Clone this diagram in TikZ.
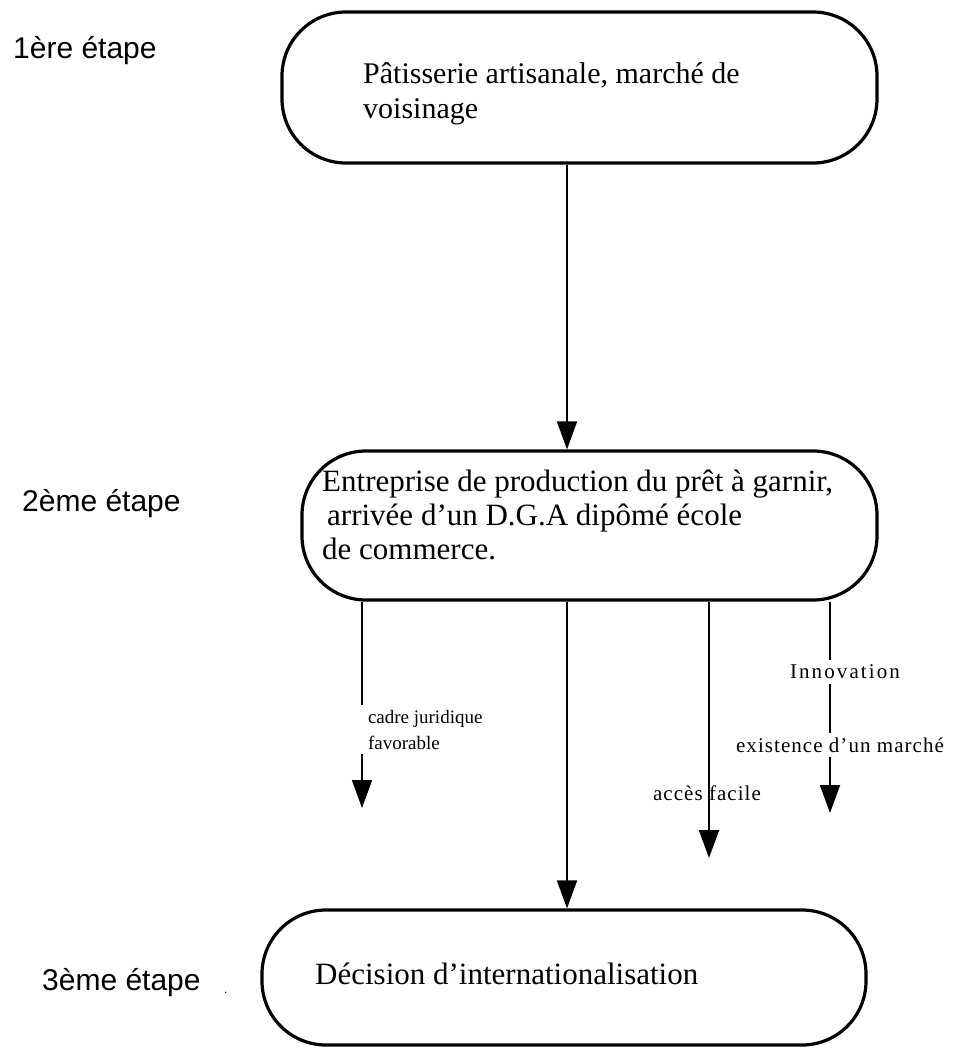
\documentclass[tikz,border=0pt]{standalone}
\usepackage{fontspec}
\setmainfont{Liberation Serif}
\newfontfamily\stagefont{Liberation Sans}
\usetikzlibrary{arrows.meta}

\begin{document}
\begin{tikzpicture}[x=1pt,y=-1pt,
  stagebox/.style={draw, line width=3.2pt, rounded corners=64pt, inner sep=0pt},
  link/.style={line width=1.8pt},
  arr/.style={link, -{Triangle[length=28pt,width=20pt]}},
  boxtext/.style={anchor=north west, align=left, inner sep=0pt},
  stagelabel/.style={anchor=base west, inner sep=0pt, font=\stagefont\fontsize{30}{36}\selectfont},
  cond/.style={inner sep=0pt, outer sep=5pt, align=left, font=\fontsize{21}{26}\selectfont}
]
\useasboundingbox (0,0) rectangle (958,1063);

% stage labels
\node[stagelabel] (s1) at (13,58) {1ère étape};
\node[stagelabel] (s2) at (22,511) {2ème étape};
\node[stagelabel] (s3) at (42,990) {3ème étape};
\node[anchor=base west, inner sep=0pt, font=\stagefont\fontsize{12}{12}\selectfont] (s3dot) at (224,993) {.};

% stage boxes
\node[stagebox, minimum width=595pt, minimum height=151pt] (box1) at (579.5,87.5) {};
\node[stagebox, minimum width=575pt, minimum height=149pt] (box2) at (589.5,525.5) {};
\node[stagebox, minimum width=604pt, minimum height=135pt] (box3) at (564,977.5) {};

\node[boxtext, font=\fontsize{30}{35}\selectfont] (t1) at (363,62)
  {Pâtisserie artisanale, marché de\\voisinage};
\node[boxtext, font=\fontsize{31}{34}\selectfont] (t2) at (322,470)
  {Entreprise de production du prêt à garnir,\\\hspace{5pt}arrivée d’un D.G.A dipômé école\\de commerce.};
\node[boxtext, font=\fontsize{31}{35}\selectfont] (t3) at (315,963)
  {Décision d’internationalisation};

% main flow
\draw[arr] (box1.south -| 567,0) -- (box2.north -| 567,0);
\draw[arr] (box2.south -| 567,0) -- (box3.north -| 567,0);

% factors
\node[cond, anchor=north west, font=\fontsize{19}{26}\selectfont] (cadre) at (363,705) {cadre juridique\\favorable};
\coordinate (cadreEnd) at (362,808);
\draw[link] (box2.south -| 362,0) -- (cadre.north -| 362,0);
\draw[arr] (cadre.south -| 362,0) -- (cadreEnd);

\node[cond, font=\fontsize{21}{26}\selectfont\addfontfeature{LetterSpace=5}] (acces) at (707,793) {accès facile};
\coordinate (accesEnd) at (709,858);
\draw[arr] (box2.south -| 709,0) -- (accesEnd);

\node[cond, font=\fontsize{21}{26}\selectfont\addfontfeature{LetterSpace=10}] (innov) at (845,672) {Innovation};
\node[cond, font=\fontsize{21}{26}\selectfont\addfontfeature{LetterSpace=5}] (exist) at (840,745) {existence d’un marché};
\coordinate (existEnd) at (830,813);
\draw[link] (box2.south -| 830,0) -- (innov.north -| 830,0);
\draw[link] (innov.south -| 830,0) -- (exist.north -| 830,0);
\draw[arr] (exist.south -| 830,0) -- (existEnd);
\end{tikzpicture}
\end{document}
